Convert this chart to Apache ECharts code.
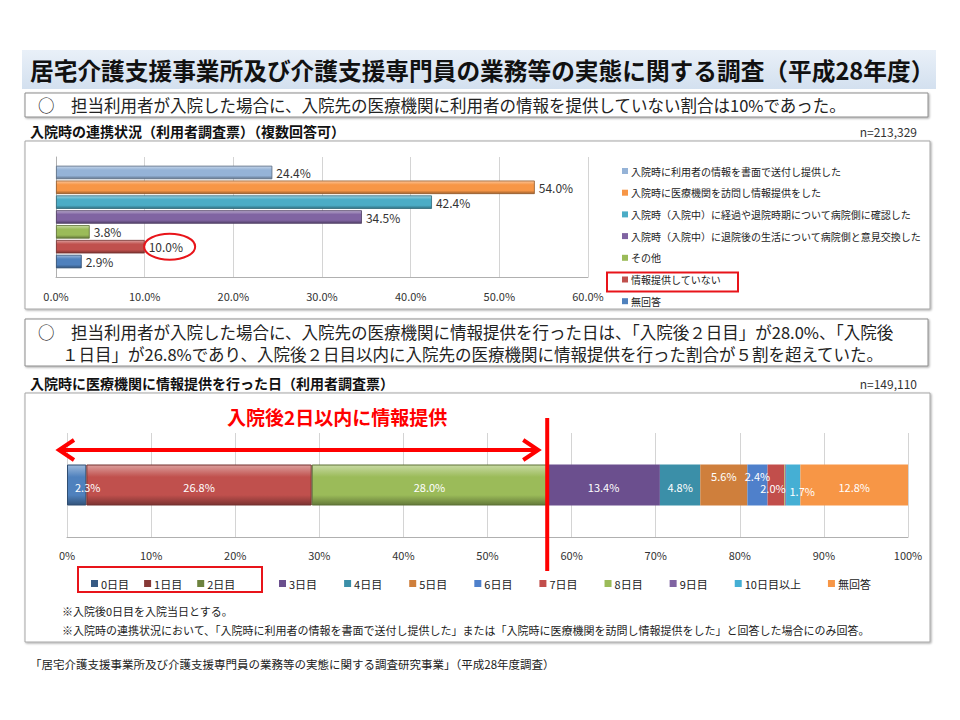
<!DOCTYPE html>
<html><head><meta charset="utf-8">
<script src="https://cdn.jsdelivr.net/npm/echarts@6/dist/echarts.min.js"></script>
<style>html,body{margin:0;padding:0;background:#fff}#c{width:960px;height:720px}</style>
</head><body><div id="c"></div>
<script>
// ---------- data ----------
const pageTitle = '居宅介護支援事業所及び介護支援専門員の業務等の実態に関する調査（平成28年度）';
const summary1 = '○　担当利用者が入院した場合に、入院先の医療機関に利用者の情報を提供していない割合は10%であった。';
const chartTitle1 = '入院時の連携状況（利用者調査票）（複数回答可）';
const n1 = 'n=213,329';
const items1 = [
  '入院時に利用者の情報を書面で送付し提供した',
  '入院時に医療機関を訪問し情報提供をした',
  '入院時（入院中）に経過や退院時期について病院側に確認した',
  '入院時（入院中）に退院後の生活について病院側と意見交換した',
  'その他',
  '情報提供していない',
  '無回答'
];
const values1 = [24.4, 54.0, 42.4, 34.5, 3.8, 10.0, 2.9];
const colors1 = ['#95b3d7', '#f79646', '#4bacc6', '#8064a2', '#9bbb59', '#c0504d', '#4f81bd'];
const highlight1 = '情報提供していない';

const summary2a = '○　担当利用者が入院した場合に、入院先の医療機関に情報提供を行った日は、「入院後２日目」が28.0%、「入院後';
const summary2b = '１日目」が26.8%であり、入院後２日目以内に入院先の医療機関に情報提供を行った割合が５割を超えていた。';
const chartTitle2 = '入院時に医療機関に情報提供を行った日（利用者調査票）';
const n2 = 'n=149,110';
const days2 = ['0日目', '1日目', '2日目', '3日目', '4日目', '5日目', '6日目', '7日目', '8日目', '9日目', '10日目以上', '無回答'];
const values2 = [2.3, 26.8, 28.0, 13.4, 4.8, 5.6, 2.4, 2.0, 0.1, 0.1, 1.7, 12.8];
const colors2 = ['#4f81bd', '#c0504d', '#9bbb59', '#6b4f8e', '#3b8fa8', '#cf7f3c', '#4f80cb', '#c24e4b', '#9bbb59', '#8064a2', '#45afd4', '#f79646'];
const withinDays = 3; // 0日目〜2日目
const bracketText = '入院後2日以内に情報提供';
const footnotes = [
  '※入院後0日目を入院当日とする。',
  '※入院時の連携状況において、「入院時に利用者の情報を書面で送付し提供した」または「入院時に医療機関を訪問し情報提供をした」と回答した場合にのみ回答。'
];
const source = '「居宅介護支援事業所及び介護支援専門員の業務等の実態に関する調査研究事業」（平成28年度調査）';

// ---------- helpers ----------
const FONT = '"Noto Sans CJK JP", "Noto Sans", sans-serif';
function shade(hex, f) {
  const n = parseInt(hex.slice(1), 16);
  let r = (n >> 16) & 255, g = (n >> 8) & 255, b = n & 255;
  const t = f < 0 ? 0 : 255, p = Math.abs(f);
  r = Math.round((t - r) * p + r); g = Math.round((t - g) * p + g); b = Math.round((t - b) * p + b);
  return '#' + ((1 << 24) + (r << 16) + (g << 8) + b).toString(16).slice(1);
}
function grad3d(c) {
  return new echarts.graphic.LinearGradient(0, 0, 0, 1, [
    { offset: 0, color: shade(c, 0.45) },
    { offset: 0.3, color: c },
    { offset: 0.75, color: c },
    { offset: 1, color: shade(c, -0.35) }
  ]);
}

const chart = echarts.init(document.getElementById('c'), null, { renderer: 'svg' });

const series1 = items1.map((name, i) => ({
  type: 'bar', name, id: 'c1_' + i, xAxisIndex: 0, yAxisIndex: 0,
  data: [values1[i]],
  barWidth: 13.5, barGap: '10%',
  itemStyle: { color: grad3d(colors1[i]), borderColor: shade(colors1[i], -0.4), borderWidth: 0.8 },
  label: { show: true, position: 'right', distance: 4, fontSize: 12, color: '#333', fontFamily: FONT,
    formatter: p => p.value.toFixed(1) + '%' }
}));

const labelOffsets2 = {0: [11, 2], 5: [0, -9], 6: [0, -9], 7: [-3, 3], 10: [9, 6]};
const series2 = days2.map((name, i) => ({
  type: 'bar', name, id: 'c2_' + i, stack: 'days', xAxisIndex: 1, yAxisIndex: 1,
  data: [values2[i]],
  barWidth: 41,
  itemStyle: { color: i < withinDays ? grad3d(colors2[i]) : colors2[i],
    borderColor: i < withinDays ? shade(colors2[i], -0.4) : 'transparent', borderWidth: i < withinDays ? 1 : 0 },
  label: { show: values2[i] >= 1, position: 'inside', fontSize: 11, color: '#fff', fontFamily: FONT,
    offset: labelOffsets2[i] || [0, 2],
    formatter: p => p.value.toFixed(1) + '%' }
}));

const boxStyle = { fill: '#fff', stroke: '#8c8c8c', lineWidth: 1, shadowBlur: 2, shadowOffsetX: 1, shadowOffsetY: 1, shadowColor: 'rgba(0,0,0,0.35)' };
function txt(text, x, y, size, opts) {
  return Object.assign({ type: 'text', z: 50, style: Object.assign({ text, x, y, fontSize: size, fontFamily: FONT, fill: '#222', verticalAlign: 'middle' }, opts || {}) });
}

const baseGraphic = [
  { type: 'rect', z: -10, shape: { x: 22, y: 50, width: 914, height: 39 },
    style: { fill: new echarts.graphic.LinearGradient(0, 0, 0, 1, [{ offset: 0, color: '#e9f0f8' }, { offset: 1, color: '#d3e0ef' }]) } },
  txt(pageTitle, 30, 70, 23.7, { fontWeight: 'bold', fill: '#111' }),
  { type: 'rect', z: -10, shape: { x: 25, y: 93, width: 903, height: 24 }, style: boxStyle },
  txt(summary1, 38, 105, 16.5),
  txt(chartTitle1, 30, 131, 14, { fontWeight: 'bold', fill: '#111' }),
  txt(n1, 917, 131, 12, { align: 'right', fill: '#333' }),
  { type: 'rect', z: -10, shape: { x: 25, y: 141, width: 905, height: 168 }, style: Object.assign({}, boxStyle, { stroke: '#a6a6a6' }) },
  { type: 'rect', z: -10, shape: { x: 25, y: 319, width: 903, height: 47 }, style: boxStyle },
  txt(summary2a, 38, 331.5, 16.5),
  txt(summary2b, 62, 354, 16.5),
  txt(chartTitle2, 30, 383, 14, { fontWeight: 'bold', fill: '#111' }),
  txt(n2, 917, 383, 12, { align: 'right', fill: '#333' }),
  { type: 'rect', z: -10, shape: { x: 25, y: 393, width: 905, height: 249 }, style: Object.assign({}, boxStyle, { stroke: '#a6a6a6' }) },
  txt(footnotes[0], 62, 611, 11),
  txt(footnotes[1], 62, 630, 11),
  txt(source, 30, 664, 11.5),
  // red box around legend item in chart 1
  { type: 'rect', z: 60, shape: { x: 607, y: 272.5, width: 131, height: 19 }, style: { fill: 'none', stroke: '#e8141a', lineWidth: 2 } },
  // red box around 0〜2日目 legend items
  { type: 'rect', z: 60, shape: { x: 78, y: 567, width: 184, height: 25 }, style: { fill: 'none', stroke: '#e8141a', lineWidth: 2 } }
];

const legendText = (size) => ({ fontSize: size, color: '#222', fontFamily: FONT, padding: [0, 0, 0, -2] });
chart.setOption({
  animation: false,
  textStyle: { fontFamily: FONT },
  grid: [
    { left: 56, right: 960 - 588, top: 157, height: 120 },
    { left: 67, right: 960 - 908, top: 433, height: 104 }
  ],
  xAxis: [
    { type: 'value', gridIndex: 0, min: 0, max: 60, interval: 10,
      axisLine: { show: true, lineStyle: { color: '#b0b0b0' } }, axisTick: { show: false },
      splitLine: { show: true, lineStyle: { color: '#d4d4d4' } },
      axisLabel: { formatter: v => v.toFixed(1) + '%', fontSize: 11, color: '#333', margin: 13 } },
    { type: 'value', gridIndex: 1, min: 0, max: 100, interval: 10,
      axisLine: { show: true, lineStyle: { color: '#b0b0b0' } }, axisTick: { show: false },
      splitLine: { show: true, lineStyle: { color: '#d4d4d4' } },
      axisLabel: { formatter: v => v + '%', fontSize: 11, color: '#333', margin: 12 } }
  ],
  yAxis: [
    { type: 'category', gridIndex: 0, data: [''], axisLine: { show: true, lineStyle: { color: '#b0b0b0' } }, axisTick: { show: false }, axisLabel: { show: false } },
    { type: 'category', gridIndex: 1, data: [''], axisLine: { show: false }, axisTick: { show: false }, axisLabel: { show: false } }
  ],
  legend: [
    { data: items1.map((name, i) => ({ name, itemStyle: { color: colors1[i], borderWidth: 0 } })),
      orient: 'vertical', left: 617, top: 161, itemWidth: 6, itemHeight: 6, itemGap: 11.7, selectedMode: false,
      icon: 'rect', textStyle: legendText(10) },
    { data: days2.slice(0, withinDays).map((name, i) => ({ name, itemStyle: { color: shade(colors2[i], -0.3), borderWidth: 0 } })),
      left: 86, top: 573, itemWidth: 7, itemHeight: 7, itemGap: 15, selectedMode: false,
      icon: 'rect', textStyle: legendText(11) },
    { data: days2.slice(withinDays).map((name, i) => ({ name, itemStyle: { color: colors2[i + withinDays], borderWidth: 0 } })),
      left: 274, top: 573, itemWidth: 7, itemHeight: 7, itemGap: 27, selectedMode: false,
      icon: 'rect', textStyle: legendText(11) }
  ],
  series: series1.concat(series2),
  graphic: baseGraphic
});

// data-driven annotations
const cum = values2.slice(0, withinDays).reduce((a, b) => a + b, 0);
const xCut = chart.convertToPixel({ xAxisIndex: 1 }, cum);
const x0 = chart.convertToPixel({ xAxisIndex: 1 }, 0);
const hiIdx = items1.indexOf(highlight1);
let layout = null;
try { layout = chart.getModel().getSeriesByIndex(hiIdx).getData().getItemLayout(0); } catch (e) {}
let ey = 244, ex = chart.convertToPixel({ xAxisIndex: 0 }, values1[hiIdx]) + 25;
if (layout) { ey = layout.y + layout.height / 2; ex = layout.x + layout.width + 25; }

const red = '#ff0000';
const ay = 450;
const extra = [
  { type: 'line', z: 70, shape: { x1: xCut, y1: 418, x2: xCut, y2: 571 }, style: { stroke: red, lineWidth: 4 } },
  { type: 'line', z: 70, shape: { x1: x0 - 8, y1: ay, x2: xCut - 9, y2: ay }, style: { stroke: red, lineWidth: 4 } },
  { type: 'polyline', z: 70, shape: { points: [[x0 + 7, ay - 10], [x0 - 8, ay], [x0 + 7, ay + 10]] }, style: { stroke: red, lineWidth: 4, fill: 'none', lineJoin: 'miter' } },
  { type: 'polyline', z: 70, shape: { points: [[xCut - 24, ay - 10], [xCut - 9, ay], [xCut - 24, ay + 10]] }, style: { stroke: red, lineWidth: 4, fill: 'none', lineJoin: 'miter' } },
  txt(bracketText, (x0 + xCut) / 2 + 30, 416, 19, { fontWeight: 'bold', fill: red, align: 'center' }),
  { type: 'ellipse', z: 70, shape: { cx: ex, cy: ey, rx: 25.5, ry: 13 }, style: { fill: 'none', stroke: '#e8141a', lineWidth: 2 } }
];
chart.setOption({ graphic: baseGraphic.concat(extra) });
</script></body></html>
